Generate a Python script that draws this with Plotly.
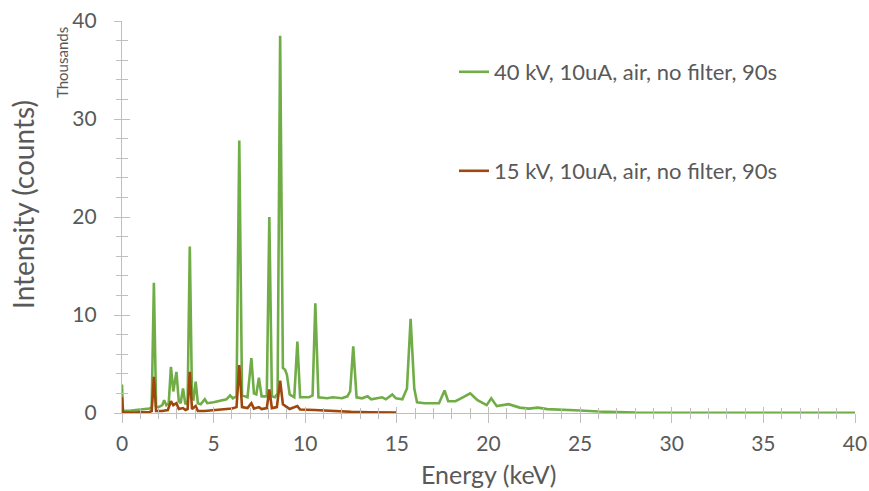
import plotly.graph_objects as go

# ---- data (energy in keV, intensity in thousands of counts) ----
energy_40kv = [0.00, 0.05, 0.5, 1.0, 1.5, 1.62, 1.74, 1.86, 2.0, 2.2, 2.3, 2.42, 2.55, 2.67, 2.8,
               2.97, 3.1, 3.2, 3.33, 3.46, 3.58, 3.70, 3.82, 3.9, 4.02, 4.14, 4.3, 4.52, 4.65,
               5.0, 5.4, 5.7, 5.9, 6.05, 6.25, 6.40, 6.55, 6.85, 7.06, 7.2, 7.33, 7.47, 7.62,
               7.9, 8.04, 8.18, 8.35, 8.49, 8.63, 8.78, 8.9, 9.0, 9.15, 9.4, 9.57, 9.72, 10.2,
               10.4, 10.55, 10.72, 11.2, 11.5, 12.0, 12.3, 12.45, 12.62, 12.8, 13.1, 13.4, 13.6,
               14.2, 14.4, 14.75, 14.95, 15.3, 15.55, 15.75, 15.95, 16.1, 16.5, 17.3, 17.6, 17.8,
               18.2, 18.6, 19.0, 19.4, 19.9, 20.15, 20.45, 21.1, 21.7, 22.2, 22.7, 23.2, 24.0,
               25.0, 26.0, 27.0, 28.0, 30.0, 35.0, 40.0]
counts_40kv = [2.9, 0.2, 0.25, 0.35, 0.45, 0.6, 13.3, 0.7, 0.6, 0.8, 1.3, 0.8, 1.0, 4.7, 2.2,
               4.2, 1.2, 1.0, 2.5, 0.9, 1.2, 17.0, 1.5, 1.4, 3.2, 1.0, 0.9, 1.4, 1.0,
               1.1, 1.3, 1.4, 1.8, 1.5, 1.7, 27.8, 1.8, 1.6, 5.6, 2.0, 1.9, 3.6, 1.7,
               1.7, 20.0, 1.7, 1.6, 2.0, 38.5, 4.6, 4.4, 3.9, 1.9, 1.6, 7.3, 1.6, 1.6,
               1.8, 11.2, 1.6, 1.5, 1.6, 1.5, 1.7, 2.2, 6.8, 1.6, 1.5, 1.7, 1.4,
               1.6, 1.4, 1.9, 1.5, 1.4, 2.5, 9.6, 2.5, 1.1, 1.0, 1.0, 2.3, 1.2,
               1.2, 1.6, 2.0, 1.3, 0.8, 1.5, 0.7, 0.9, 0.55, 0.45, 0.55, 0.4, 0.3,
               0.25, 0.15, 0.08, 0.04, 0.02, 0.01, 0.01]

energy_15kv = [0.00, 0.06, 0.5, 1.0, 1.5, 1.62, 1.74, 1.86, 2.2, 2.5, 2.67, 2.8, 2.97, 3.1, 3.33,
               3.46, 3.58, 3.70, 3.82, 4.02, 4.14, 4.5, 5.0, 5.5, 6.0, 6.25, 6.40, 6.55, 6.85,
               7.06, 7.2, 7.47, 7.62, 7.9, 8.04, 8.18, 8.45, 8.63, 8.78, 9.0, 9.15, 9.57, 9.72,
               10.5, 11.5, 12.5, 13.5, 15.0]
counts_15kv = [1.6, 0.05, 0.05, 0.08, 0.1, 0.2, 3.7, 0.2, 0.2, 0.3, 1.2, 0.8, 1.0, 0.4, 0.5,
               0.3, 0.4, 4.2, 0.4, 0.7, 0.2, 0.2, 0.3, 0.35, 0.45, 0.6, 4.9, 0.6, 0.5,
               1.0, 0.45, 0.6, 0.4, 0.5, 2.4, 0.5, 0.6, 3.3, 0.9, 0.6, 0.4, 0.7, 0.35,
               0.3, 0.2, 0.12, 0.08, 0.05]

name_40kv = "40 kV, 10uA, air, no filter, 90s"
name_15kv = "15 kV, 10uA, air, no filter, 90s"

x_ticks = [0, 5, 10, 15, 20, 25, 30, 35, 40]
y_ticks = [0, 10, 20, 30, 40]

GREEN = "#70AD47"
RED = "#9E480E"
TXT = "#595959"
AX = "#BFBFBF"
FONT = "Lato"

W, H = 869, 491
L, R, T, B = 122, 14, 21, 78
PW, PH = W - L - R, H - T - B


def px_x(px):
    return (px - L) / PW


def px_y(py):
    return (H - B - py) / PH


fig = go.Figure()
fig.add_trace(go.Scatter(x=energy_40kv, y=counts_40kv, mode="lines", name=name_40kv,
                         line=dict(color=GREEN, width=2.6), legend="legend"))
fig.add_trace(go.Scatter(x=energy_15kv, y=counts_15kv, mode="lines", name=name_15kv,
                         line=dict(color=RED, width=2.6), legend="legend2"))
# helper trace for the inner half of the crossing tick marks
fig.add_trace(go.Scatter(x=[None], y=[None], xaxis="x2", yaxis="y2", showlegend=False,
                         hoverinfo="skip"))

fig.update_layout(
    width=W, height=H,
    margin=dict(l=L, r=R, t=T, b=B, autoexpand=False),
    paper_bgcolor="white", plot_bgcolor="white",
    font=dict(family=FONT, color=TXT, size=21),
    xaxis=dict(range=[0, 40], tickvals=x_ticks, ticktext=[str(v) for v in x_ticks],
               showgrid=False, zeroline=False, showline=True, linecolor=AX, linewidth=1.3,
               ticks="outside", ticklen=9, tickcolor=AX, tickwidth=1.3, automargin=False,
               minor=dict(dtick=1, ticks="outside", ticklen=5, tickcolor=AX, tickwidth=1, showgrid=False),
               tickfont=dict(size=21, color=TXT), ticklabelstandoff=3),
    yaxis=dict(range=[0, 40], tickvals=y_ticks, ticktext=[str(v) for v in y_ticks],
               showgrid=False, zeroline=False, showline=True, linecolor=AX, linewidth=1.3,
               ticks="outside", ticklen=7, tickcolor=AX, tickwidth=1.3, automargin=False,
               minor=dict(dtick=2, ticks="outside", ticklen=5, tickcolor=AX, tickwidth=1, showgrid=False),
               tickfont=dict(size=21, color=TXT), ticklabelstandoff=13),
    xaxis2=dict(range=[0, 40], overlaying="x", anchor="y2", showgrid=False, zeroline=False,
                showline=False, showticklabels=False, tickvals=x_ticks,
                ticks="inside", ticklen=6, tickcolor=AX, tickwidth=1.3,
                minor=dict(dtick=1, ticks="inside", ticklen=5, tickcolor=AX, tickwidth=1, showgrid=False)),
    yaxis2=dict(range=[0, 40], overlaying="y", anchor="x2", showgrid=False, zeroline=False,
                showline=False, showticklabels=False, tickvals=y_ticks,
                ticks="inside", ticklen=8, tickcolor=AX, tickwidth=1.3,
                minor=dict(dtick=2, ticks="inside", ticklen=6, tickcolor=AX, tickwidth=1, showgrid=False)),
    legend=dict(x=px_x(454), y=px_y(51), xanchor="left", yanchor="top",
                bgcolor="rgba(0,0,0,0)",
                font=dict(size=22, color=TXT, family=FONT), itemwidth=30),
    legend2=dict(x=px_x(454), y=px_y(150), xanchor="left", yanchor="top",
                 bgcolor="rgba(0,0,0,0)",
                 font=dict(size=22, color=TXT, family=FONT), itemwidth=30),
    showlegend=True,
)

# axis titles and units label
fig.add_annotation(text="Intensity (counts)", xref="paper", yref="paper",
                   x=px_x(23), y=px_y(205),
                   textangle=-90, showarrow=False, xanchor="center", yanchor="middle",
                   font=dict(size=28, color=TXT, family=FONT))
fig.add_annotation(text="Thousands", xref="paper", yref="paper",
                   x=px_x(62), y=px_y(62),
                   textangle=-90, showarrow=False, xanchor="center", yanchor="middle",
                   font=dict(size=15, color=TXT, family=FONT))
fig.add_annotation(text="Energy (keV)", xref="paper", yref="paper",
                   x=0.5, y=px_y(491), xanchor="center", yanchor="bottom",
                   showarrow=False,
                   font=dict(size=25, color=TXT, family=FONT))

fig.write_html("out.html")
